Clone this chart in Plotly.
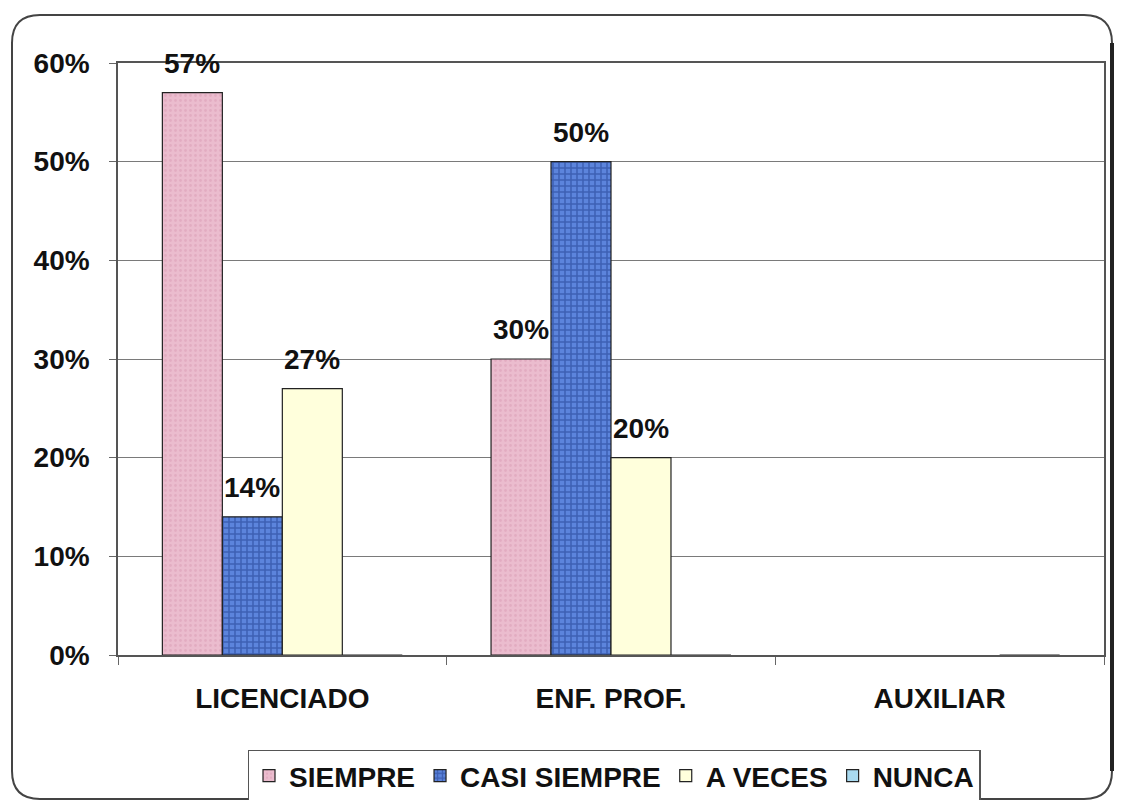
import plotly.graph_objects as go

categories = ["LICENCIADO", "ENF. PROF.", "AUXILIAR"]
siempre = [0.57, 0.30, None]
casi_siempre = [0.14, 0.50, None]
a_veces = [0.27, 0.20, None]
nunca = [0, 0, 0]
series_names = ["SIEMPRE", "CASI SIEMPRE", "A VECES", "NUNCA"]
y_ticks = [0, 0.1, 0.2, 0.3, 0.4, 0.5, 0.6]

FONT = "Liberation Sans, Arial, sans-serif"
FS = 28
BARGAP = 0.27

styles = [
    dict(color="#E9B8CB", pattern=dict(shape=".", fgcolor="#D99BB3", bgcolor="#EBBCCE", size=5, solidity=0.25)),
    dict(color="#4F74CF", pattern=dict(shape="+", fgcolor="#1F3C8C", bgcolor="#5C84DC", size=6, solidity=0.45)),
    dict(color="#FFFFDC"),
    dict(color="#A9DAF0"),
]
all_series = [siempre, casi_siempre, a_veces, nunca]

fig = go.Figure()
for name, vals, st in zip(series_names, all_series, styles):
    fig.add_trace(go.Bar(
        name=name, x=categories, y=vals, cliponaxis=False,
        marker=dict(line=dict(color="#222", width=1.2), **st),
    ))

# value labels placed over each bar via the axis scales
n = len(all_series)
w = (1 - BARGAP) / n
annotations = []
for k, vals in enumerate(all_series):
    for i, v in enumerate(vals):
        if v:
            annotations.append(dict(
                x=i + (k - (n - 1) / 2) * w, y=v, xref="x", yref="y",
                text=f"{v:.0%}", showarrow=False, yanchor="bottom", yshift=12,
                font=dict(family=FONT, size=FS, color="#111", weight="bold"),
            ))

OFF = 8  # page body margin
W, H = 1125 - 2 * OFF, 808 - 2 * OFF
L, R, T, B = 118, 1104, 63, 655  # screen coords of plot area


def px(x):
    return (x - L) / (R - L)


def py(y):
    return (B - y) / (B - T)


x0, x1, y0, y1 = px(12), px(1112), py(799), py(15)
rx, ry = 28 / (R - L), 28 / (B - T)
path = (f"M {x0+rx},{y1} L {x1-rx},{y1} Q {x1},{y1} {x1},{y1-ry} "
        f"L {x1},{y0+ry} Q {x1},{y0} {x1-rx},{y0} L {x0+rx},{y0} "
        f"Q {x0},{y0} {x0},{y0+ry} L {x0},{y1-ry} Q {x0},{y1} {x0+rx},{y1} Z")

fig.update_layout(
    width=W, height=H,
    margin=dict(l=L - OFF, r=W - (R - OFF), t=T - OFF, b=H - (B - OFF), autoexpand=False),
    paper_bgcolor="white", plot_bgcolor="white",
    barmode="group", bargap=BARGAP, bargroupgap=0,
    font=dict(family=FONT, size=FS, color="#111"),
    showlegend=True,
    legend=dict(orientation="h", xref="container", yref="container",
                x=(614 - OFF) / W, xanchor="center", y=1 - (776 - OFF) / H, yanchor="middle",
                bordercolor="#555", borderwidth=1.5, bgcolor="white",
                font=dict(family=FONT, size=FS, color="#111", weight="bold"),
                itemwidth=30, tracegroupgap=0),
    shapes=[
        dict(type="path", path=path, xref="paper", yref="paper",
             line=dict(color="#444", width=2), layer="below"),
        dict(type="line", xref="paper", yref="paper", x0=x1, x1=x1, y0=y0 + ry, y1=y1 - ry,
             line=dict(color="#222", width=4), layer="below"),
    ],
    annotations=annotations,
)
fig.update_xaxes(
    showline=True, linecolor="#555", linewidth=1.5, mirror=True,
    ticks="outside", tickson="boundaries", ticklen=8, tickcolor="#666",
    tickfont=dict(family=FONT, size=FS, color="#111", weight="bold"),
    ticklabelstandoff=18, automargin=False,
)
fig.update_yaxes(
    range=[0, 0.6], tickvals=y_ticks, tickformat=".0%",
    showline=True, linecolor="#555", linewidth=1.5, mirror=True,
    showgrid=True, gridcolor="#7a7a7a", gridwidth=1,
    ticks="outside", ticklen=7, tickcolor="#666",
    tickfont=dict(family=FONT, size=FS, color="#111", weight="bold"),
    ticklabelstandoff=14, zeroline=False, automargin=False,
)
fig.write_html("out.html")
